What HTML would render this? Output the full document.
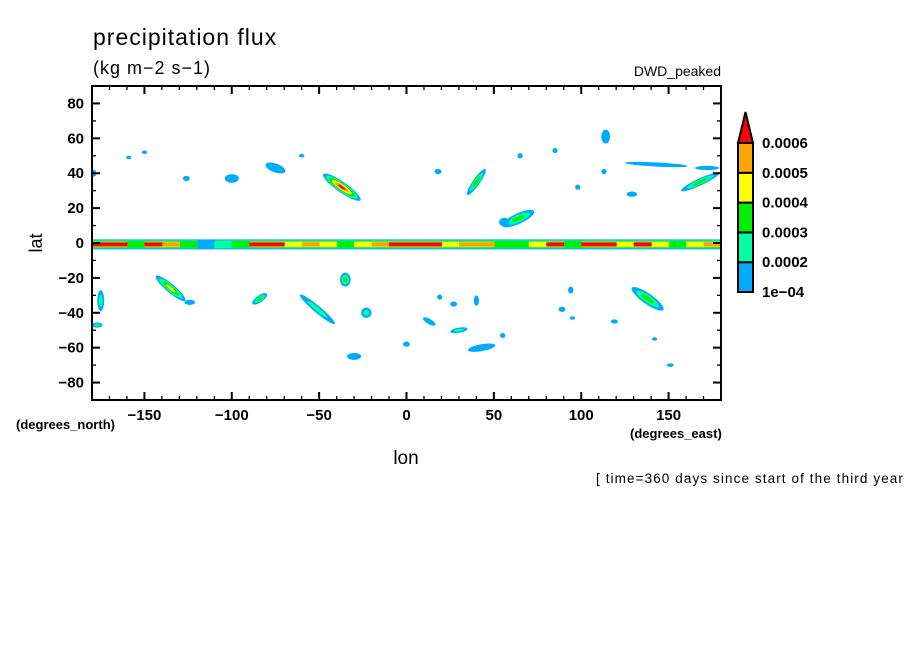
<!DOCTYPE html>
<html><head><meta charset="utf-8"><style>
html,body{margin:0;padding:0;background:#fff;}
svg{display:block;font-family:"Liberation Sans",sans-serif;}
</style></head><body>
<svg id="chart" width="904" height="654" viewBox="0 0 904 654" xmlns="http://www.w3.org/2000/svg">
<rect width="904" height="654" fill="#fff"/>
<text x="93" y="45" font-size="23" letter-spacing="1">precipitation flux</text>
<text x="93" y="74" font-size="18" letter-spacing="1">(kg m−2 s−1)</text>
<text x="721" y="76" font-size="14" text-anchor="end">DWD_peaked</text>
<g id="plot"></g>
<g id="axes"></g>
<g id="cbar"></g>
<text x="36" y="243" font-size="18" text-anchor="middle" transform="rotate(-90 36 243)" dominant-baseline="central">lat</text>
<text x="16" y="429" font-size="13" font-weight="bold">(degrees_north)</text>
<text x="406" y="464" font-size="19" text-anchor="middle">lon</text>
<text x="630" y="438" font-size="13" font-weight="bold">(degrees_east)</text>
<text x="596" y="483" font-size="13.5" letter-spacing="1.1">[ time=360 days since start of the third year</text>
</svg>
<script>
const levelColors = ['#00aaff','#00ffa0','#00ee00','#ffff00','#ffa500','#ff0000'];
const levelLabels = ['1e-04','0.0002','0.0003','0.0004','0.0005','0.0006'];
const xTicks = [-150,-100,-50,0,50,100,150];
const yTicks = [-80,-60,-40,-20,0,20,40,60,80];
// ITCZ band: level per 10° lon bin starting at -180
const bandLon = [-180,-170,-160,-150,-140,-130,-120,-110,-100,-90,-80,-70,-60,-50,-40,-30,-20,-10,0,10,20,30,40,50,60,70,80,90,100,110,120,130,140,150,160,170];
const bandLevel = [6,6,3,6,5,3,1,2,3,6,6,4,5,4,3,4,5,6,6,6,4,5,5,3,3,4,6,3,6,6,4,6,4,3,4,5];
// blobs: lon, lat, rx(deg), ry(deg), angle, level
const blobLon = [-37,-75,-100,-126,-159,-179,18,40,65,85,114,98,143,172,129,168,113,64,56,-135,-124,-175,-177,-84,-51,-23,-35,-30,0,27,30,40,43,55,89,94,95,119,138,142,151,13,19,-60,-150];
const blobLat = [32,43,37,37,49,40,41,35,50,53,61,32,45,43,28,35,41,14,12,-26,-34,-33,-47,-32,-38,-40,-21,-65,-58,-35,-50,-33,-60,-53,-38,-27,-43,-45,-32,-55,-70,-45,-31,50,52];
const blobRx = [13,2.5,4,2,1.5,1.5,2,9,1.5,1.5,2.5,1.5,18,7,3,12,1.5,10,3,11,3,2,3,5,13,3,3,4,2,2,5,1.5,8,1.5,2,1.5,1.5,2,11,1.5,2,4,1.5,1.5,1.5];
const blobRy = [3,6,2.5,1.5,1,2,1.5,2,1.5,1.5,4,1.5,1.2,1.2,1.5,2,1.5,3,2.5,2.5,1.5,6,1.5,2,2,3,4,2,1.5,1.5,1.5,3,2,1.5,1.5,2,1,1.2,3,1,1,1.5,1.5,1,1];
const blobAng = [35,-70,0,0,0,0,0,-55,0,0,0,0,3,0,0,-25,0,-25,0,40,0,0,0,-35,40,0,0,0,0,0,-10,0,-10,0,0,0,0,0,35,0,0,30,0,0,0];
const blobLevel = [6,1,1,1,1,1,1,3,1,1,1,1,1,1,1,3,1,3,1,4,1,2,2,3,2,2,3,1,1,1,2,1,1,1,1,1,1,1,3,1,1,1,1,1,1];

const X0=92,X1=721,Y0=86,Y1=400;
const xs = lon => X0 + (lon+180)/360*(X1-X0);
const ys = lat => Y0 + (90-lat)/180*(Y1-Y0);
const NS='http://www.w3.org/2000/svg';
function mk(tag, attrs, parent){const e=document.createElementNS(NS,tag);for(const k in attrs)e.setAttribute(k,attrs[k]);parent.appendChild(e);return e;}
const plot=document.getElementById('plot'), axes=document.getElementById('axes'), cbar=document.getElementById('cbar');
const kx=(X1-X0)/360, ky=(Y1-Y0)/180;

// band: continuous layers, thickness by level
const bandH=[10,8,6.5,5.5,4.5,4];
for(let k=1;k<=6;k++){
  bandLon.forEach((lon,i)=>{
    if(bandLevel[i]<k) return;
    const x=xs(lon), w=xs(lon+10)-x+0.5;
    const cy=ys(-0.8), h=bandH[k-1];
    const r=mk('rect',{x:x,y:cy-h/2,width:w,height:h,fill:levelColors[k-1]},plot);
    
    
  });
}
// blobs
blobLon.forEach((lon,i)=>{
  const L=blobLevel[i];
  const cx=xs(lon), cy=ys(blobLat[i]);
  for(let k=1;k<=L;k++){
    const f=1-(k-1)/(L+0.3);
    const e=mk('ellipse',{cx:cx,cy:cy,rx:blobRx[i]*kx*f,ry:Math.max(0.8,blobRy[i]*ky*f),fill:levelColors[k-1],transform:`rotate(${blobAng[i]} ${cx} ${cy})`},plot);
    
    
  }
});

// frame
const fr=mk('rect',{x:X0,y:Y0,width:X1-X0,height:Y1-Y0,fill:'none',stroke:'#000','stroke-width':2},axes);


for(let lon=-170;lon<=170;lon+=10){
  const major=xTicks.includes(lon); const len=major?8:4; const x=xs(lon);
  mk('line',{x1:x,y1:Y1,x2:x,y2:Y1-len,stroke:'#000','stroke-width':major?2:1.3},axes);
  mk('line',{x1:x,y1:Y0,x2:x,y2:Y0+len,stroke:'#000','stroke-width':major?2:1.3},axes);
}
for(let lat=-80;lat<=80;lat+=10){
  const major=yTicks.includes(lat); const len=major?8:4; const y=ys(lat);
  mk('line',{x1:X0,y1:y,x2:X0+len,y2:y,stroke:'#000','stroke-width':major?2:1.3},axes);
  mk('line',{x1:X1,y1:y,x2:X1-len,y2:y,stroke:'#000','stroke-width':major?2:1.3},axes);
}
xTicks.forEach(v=>{
  const t=mk('text',{x:xs(v),y:420,'font-size':15,'font-weight':'bold','text-anchor':'middle'},axes);
  t.textContent=v<0?'−'+Math.abs(v):String(v);
  
  
});
yTicks.forEach(v=>{
  const t=mk('text',{x:84,y:ys(v)+5,'font-size':15,'font-weight':'bold','text-anchor':'end'},axes);
  t.textContent=v<0?'−'+Math.abs(v):String(v);
  
  
});

// colorbar
const CX=738,CW=15,CB=292,CT=143,seg=(CB-CT)/5;
for(let k=0;k<5;k++){
  const r=mk('rect',{x:CX,y:CB-(k+1)*seg,width:CW,height:seg,fill:levelColors[k],stroke:'#000','stroke-width':2},cbar);
  
  
}
const tri=mk('polygon',{points:`${CX},${CT} ${CX+CW},${CT} ${CX+CW/2},${112}`,fill:levelColors[5],stroke:'#000','stroke-width':2},cbar);


levelLabels.forEach((lab,k)=>{
  const t=mk('text',{x:762,y:CB-k*seg+5,'font-size':15,'font-weight':'bold'},cbar);
  t.textContent=lab.replace('-','−');
  
  
});
</script>
</body></html>
